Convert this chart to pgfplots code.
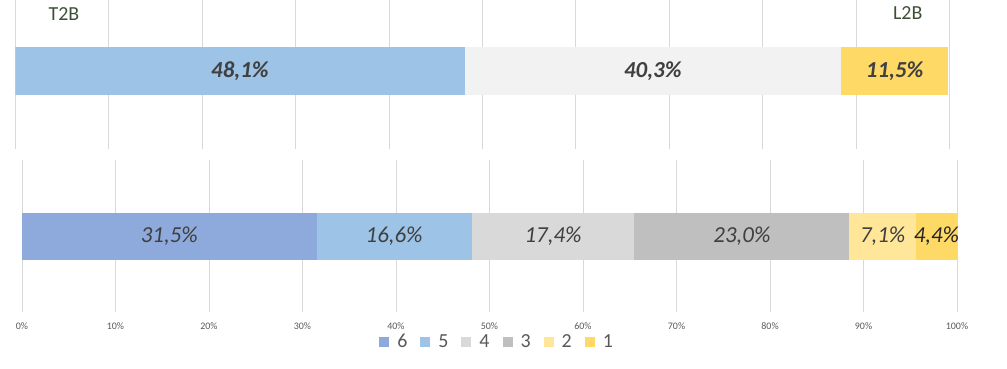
\documentclass[border=0pt]{standalone}
\usepackage{fontspec}
\setmainfont{Carlito}
\usepackage{pgfplots}
\pgfplotsset{compat=1.18}
\definecolor{c6}{HTML}{8EA9DB}
\definecolor{c5}{HTML}{9DC3E6}
\definecolor{c4}{HTML}{D9D9D9}
\definecolor{c4t}{HTML}{F2F2F2}
\definecolor{c3}{HTML}{BFBFBF}
\definecolor{c2}{HTML}{FFE699}
\definecolor{c1}{HTML}{FFD966}
\definecolor{gridc}{HTML}{D9D9D9}
\definecolor{lab}{HTML}{404040}
\definecolor{labd}{HTML}{262626}
\definecolor{tb}{HTML}{3D5035}
\definecolor{tick}{HTML}{595959}
\pgfplotsset{
  legsq/.style={legend image code/.code={\fill[##1,draw=none] (0bp,-5bp) rectangle (10bp,5bp);}},
  pct/.style={nodes near coords={\pgfmathprintnumber[fixed,fixed zerofill,precision=1,use comma]{\pgfplotspointmeta}\%},
    point meta=explicit, /pgf/number format/assume math mode=true},
}
\begin{document}
\begin{tikzpicture}
\path[use as bounding box] (0,0) rectangle (1007bp,369bp);

% ---------- top panel ----------
\begin{axis}[at={(15.3bp,220bp)}, anchor=south west, scale only axis,
  width=934bp, height=149bp,
  xmin=0, xmax=100, ymin=-78, ymax=71,
  xbar stacked, bar width=48,
  axis line style={draw=none}, major tick length=0pt,
  xtick={0,10,...,100}, xticklabels={}, ytick=\empty,
  xmajorgrids, grid style={draw=gridc, line width=0.75bp}]
\addplot[fill=c5, draw=none] coordinates {(48.1,0)};
\addplot[fill=c4t, draw=none] coordinates {(40.3,0)};
\addplot[fill=c1, draw=none] coordinates {(11.5,0)};
\end{axis}
\begin{axis}[at={(15.3bp,220bp)}, anchor=south west, scale only axis,
  width=934bp, height=149bp,
  xmin=0, xmax=100, ymin=-78, ymax=71, hide axis, clip=false, pct,
  every node near coord/.append style={anchor=center, font=\fontsize{23}{27}\selectfont\bfseries\itshape, text=lab}]
\addplot[draw=none, mark=none] coordinates {(24.05,0) [48.1] (68.25,0) [40.3] (94.15,0) [11.5]};
\end{axis}
\node[font=\fontsize{20}{24}\selectfont, text=tb] at (64bp,355bp) {T2B};
\node[font=\fontsize{20}{24}\selectfont, text=tb] at (907.7bp,356.3bp) {L2B};

% ---------- bottom panel ----------
\begin{axis}[at={(22bp,57bp)}, anchor=south west, scale only axis,
  width=935bp, height=152bp,
  xmin=0, xmax=100, ymin=-75.5, ymax=76.5,
  xbar stacked, bar width=47,
  axis line style={draw=none}, major tick length=0pt,
  xtick={0,10,...,100}, ytick=\empty,
  /pgf/number format/assume math mode=true,
  xticklabel={\pgfmathprintnumber{\tick}\%},
  xticklabel style={font=\fontsize{10}{12}\selectfont, text=tick, yshift=-7bp},
  xmajorgrids, grid style={draw=gridc, line width=0.75bp},
  legend columns=6,
  legend style={at={(0.507,-0.195)}, anchor=center, draw=none, fill=none,
    font=\fontsize{20}{23}\selectfont, text=tick,
    nodes={inner sep=0pt},
    /tikz/every even column/.append style={column sep=13bp},
    /tikz/every odd column/.append style={column sep=8bp}},
  legend entries={6,5,4,3,2,1}]
\addplot[fill=c6, draw=none, legsq] coordinates {(31.5,0)};
\addplot[fill=c5, draw=none, legsq] coordinates {(16.6,0)};
\addplot[fill=c4, draw=none, legsq] coordinates {(17.4,0)};
\addplot[fill=c3, draw=none, legsq] coordinates {(23.0,0)};
\addplot[fill=c2, draw=none, legsq] coordinates {(7.1,0)};
\addplot[fill=c1, draw=none, legsq] coordinates {(4.4,0)};
\end{axis}
\begin{axis}[at={(22bp,57bp)}, anchor=south west, scale only axis,
  width=935bp, height=152bp,
  xmin=0, xmax=100, ymin=-75.5, ymax=76.5, hide axis, clip=false, pct,
  every node near coord/.append style={anchor=center, font=\fontsize{23}{27}\selectfont\itshape, text=lab}]
\addplot[draw=none, mark=none] coordinates {(15.75,0) [31.5] (39.8,0) [16.6] (56.8,0) [17.4] (77.0,0) [23.0] (92.05,0) [7.1]};
\addplot[draw=none, mark=none, every node near coord/.append style={text=labd}] coordinates {(97.8,0) [4.4]};
\end{axis}
\end{tikzpicture}
\end{document}
